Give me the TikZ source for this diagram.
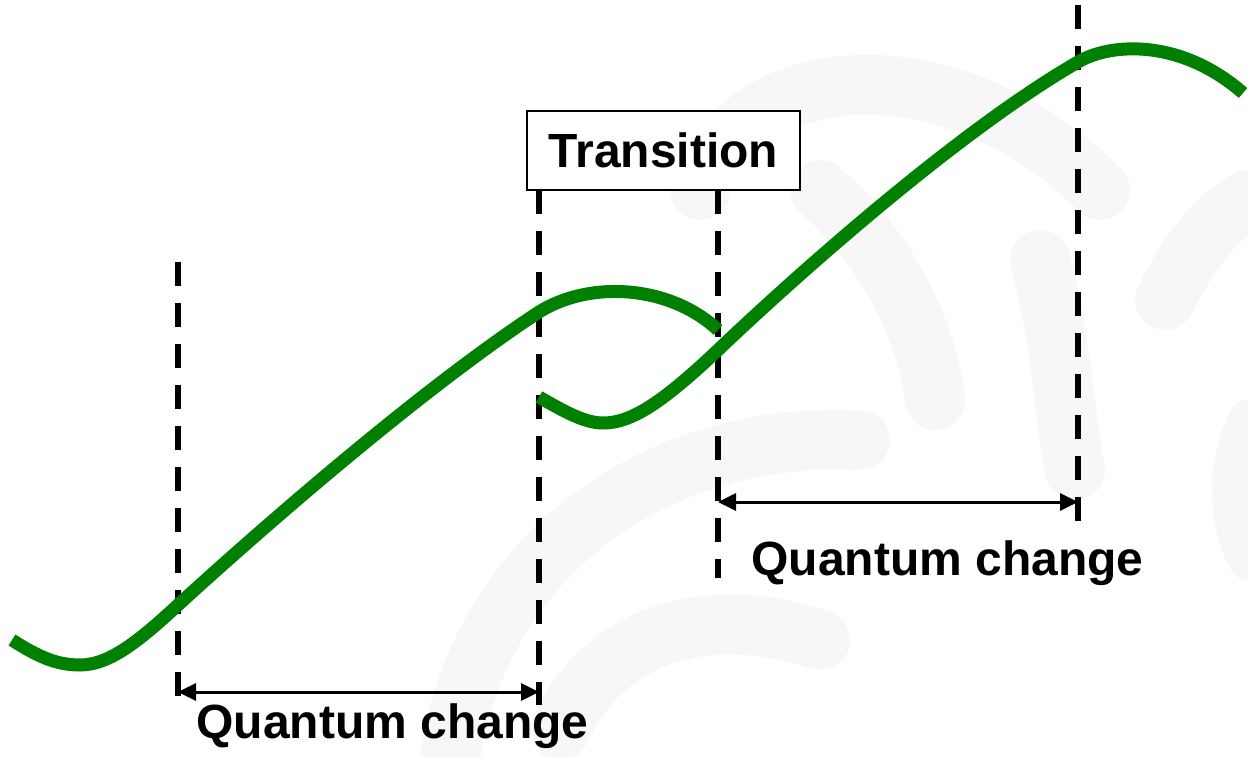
\documentclass[tikz,border=0pt]{standalone}
\usepackage{fontspec}
\setmainfont{Liberation Sans}
\usetikzlibrary{arrows.meta}
\tikzset{
  curve/.style={draw=green!50!black, line width=13pt, line cap=butt},
  guide/.style={draw=black, line width=6pt, dash pattern=on 24pt off 17pt},
  span/.style={draw=black, line width=3pt, {Triangle[length=18pt,width=17pt]}-{Triangle[length=18pt,width=17pt]}},
  lbl/.style={font=\fontsize{48}{57}\selectfont\bfseries, inner sep=0pt},
  wm/.style={draw=black!3, line width=60pt, line cap=round},
}
\begin{document}
\begin{tikzpicture}[x=1pt,y=-1pt]
\useasboundingbox (0,0) rectangle (1248,757);
% faint background watermark
\draw[wm] (700,190) .. controls (740,60) and (950,40) .. (1100,190);
\draw[wm] (820,190) .. controls (900,260) and (930,350) .. (935,400);
\draw[wm] (1040,260) .. controls (1060,330) and (1065,420) .. (1075,470);
\draw[wm] (1165,300) .. controls (1200,230) and (1230,210) .. (1248,200);
\draw[wm] (450,757) .. controls (480,560) and (650,430) .. (860,440);
\draw[wm] (560,730) .. controls (600,640) and (700,600) .. (820,640);
\draw[wm, line width=40pt] (1248,420) .. controls (1225,470) and (1228,520) .. (1248,560);
% dashed guide lines
\coordinate (a1) at (178,262); \coordinate (a2) at (178,705);
\coordinate (b2) at (539,705);
\coordinate (c2) at (718,578);
\coordinate (d1) at (1078,5); \coordinate (d2) at (1078,528);
\node[draw, line width=2pt, minimum width=273pt, minimum height=79pt, inner sep=0pt, fill=white,
      font=\fontsize{48}{57}\selectfont\bfseries] (trans) at (663.5,150.5) {Transition};
\coordinate (b1) at (539,190);
\coordinate (c1) at (718,190);
\draw[guide] (a1) -- (a2);
\draw[guide] (b1) -- (b2);
\draw[guide] (c1) -- (c2);
\draw[guide] (d1) -- (d2);
% green curves
\draw[curve] (12,640) .. controls (40,658) and (58,665) .. (80,665)
  .. controls (110,665) and (140,640) .. (178,605)
  .. controls (260,530) and (420,390) .. (539,312)
  .. controls (590,280) and (670,285) .. (718,330);
\draw[curve] (539,397) .. controls (565,412) and (585,423) .. (603,423)
  .. controls (630,423) and (660,405) .. (718,350)
  .. controls (800,272) and (960,130) .. (1078,62)
  .. controls (1110,43) and (1180,38) .. (1243,93);
% spans
\coordinate (s1a) at (178,692); \coordinate (s1b) at (539,692);
\coordinate (s2a) at (718,502); \coordinate (s2b) at (1078,502);
\draw[span] (s1a) -- (s1b);
\draw[span] (s2a) -- (s2b);
\node[lbl, anchor=base] (q1) at (392.5,738) {Quantum change};
\node[lbl, anchor=base] (q2) at (947.5,575) {Quantum change};
\end{tikzpicture}
\end{document}
